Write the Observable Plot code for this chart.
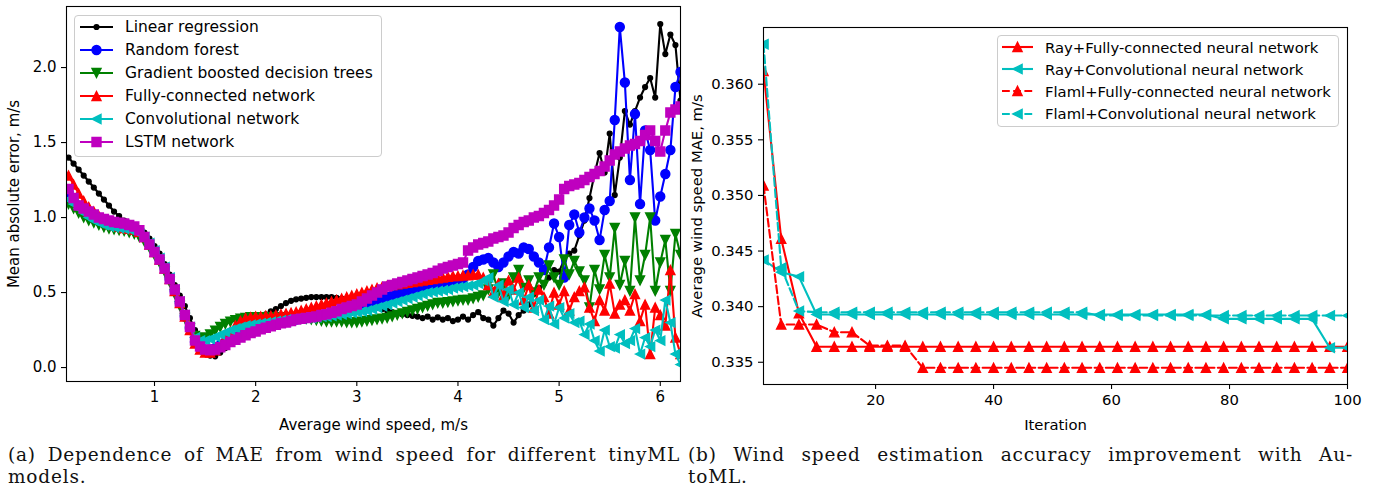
<!DOCTYPE html>
<html>
<head>
<meta charset="utf-8">
<script src="https://cdn.jsdelivr.net/npm/d3@7"></script>
<script src="https://cdn.jsdelivr.net/npm/@observablehq/plot@0.6"></script>
<style>
html,body{margin:0;padding:0;background:#fff;}
#page{position:relative;width:1375px;height:495px;overflow:hidden;background:#fff;font-family:"DejaVu Sans",sans-serif;}
.chart{position:absolute;top:0;}
.legend{position:absolute;box-sizing:border-box;border:1px solid #cccccc;border-radius:4px;background:rgba(255,255,255,0.8);font-family:"DejaVu Sans",sans-serif;color:#000;}
.legend .row{position:absolute;left:0;height:22px;display:flex;align-items:center;white-space:nowrap;}
.legend svg{display:block;overflow:visible;flex:none;}
.cap{position:absolute;font-family:"DejaVu Serif",serif;font-size:18.5px;line-height:22px;letter-spacing:0.8px;color:#111;}
.cap .l1{text-align:justify;text-align-last:justify;}
</style>
</head>
<body>
<div id="page">
  <div id="left" class="chart" style="left:0px"></div>
  <div id="right" class="chart" style="left:680px"></div>
  <div id="legL" class="legend" style="left:74px;top:15px;width:308px;height:142px;font-size:15.5px"></div>
  <div id="legR" class="legend" style="left:997px;top:35px;width:342px;height:92px;font-size:14.8px"></div>
  <div class="cap" style="left:8px;top:444px;width:672px">
    <div class="l1">(a) Dependence of MAE from wind speed for different tinyML</div>
    <div>models.</div>
  </div>
  <div class="cap" style="left:688px;top:444px;width:665px">
    <div class="l1">(b) Wind speed estimation accuracy improvement with Au-</div>
    <div>toML.</div>
  </div>
</div>
<script>
// ---------- Panel (a): MAE vs average wind speed ----------
const windSpeed = [
  0.15,0.20,0.25,0.30,0.35,0.40,0.45,0.50,0.55,0.60,
  0.65,0.70,0.75,0.80,0.85,0.90,0.95,1.00,1.05,1.10,
  1.15,1.20,1.25,1.30,1.35,1.40,1.45,1.50,1.55,1.60,
  1.65,1.70,1.75,1.80,1.85,1.90,1.95,2.00,2.05,2.10,
  2.15,2.20,2.25,2.30,2.35,2.40,2.45,2.50,2.55,2.60,
  2.65,2.70,2.75,2.80,2.85,2.90,2.95,3.00,3.05,3.10,
  3.15,3.20,3.25,3.30,3.35,3.40,3.45,3.50,3.55,3.60,
  3.65,3.70,3.75,3.80,3.85,3.90,3.95,4.00,4.05,4.10,
  4.15,4.20,4.25,4.30,4.35,4.40,4.45,4.50,4.55,4.60,
  4.65,4.70,4.75,4.80,4.85,4.90,4.95,5.00,5.05,5.10,
  5.15,5.20,5.25,5.30,5.35,5.40,5.45,5.50,5.55,5.60,
  5.65,5.70,5.75,5.80,5.85,5.90,5.95,6.00,6.05,6.10,
  6.15,6.20];

const linearRegression = [
  1.40,1.36,1.32,1.28,1.24,1.20,1.16,1.12,1.08,1.04,
  1.01,0.98,0.965,0.95,0.93,0.90,0.86,0.81,0.76,0.69,
  0.62,0.55,0.48,0.41,0.33,0.25,0.19,0.13,0.08,0.075,
  0.10,0.13,0.165,0.195,0.225,0.26,0.29,0.315,0.335,0.355,
  0.375,0.39,0.41,0.43,0.445,0.455,0.46,0.465,0.47,0.47,
  0.47,0.47,0.47,0.465,0.46,0.455,0.45,0.44,0.43,0.42,
  0.41,0.40,0.39,0.38,0.37,0.36,0.355,0.35,0.345,0.34,
  0.33,0.34,0.32,0.335,0.32,0.33,0.31,0.32,0.34,0.32,
  0.35,0.37,0.33,0.32,0.28,0.33,0.38,0.36,0.30,0.35,
  0.38,0.42,0.49,0.53,0.56,0.60,0.65,0.64,0.72,0.76,
  0.78,0.88,0.98,1.13,1.29,1.43,1.30,1.56,1.15,1.40,
  1.71,1.62,1.71,1.80,1.87,1.93,1.80,2.29,2.09,2.22,
  2.15,1.78];

const randomForest = [
  1.17,1.12,1.08,1.05,1.03,1.01,0.99,0.98,0.97,0.965,
  0.96,0.955,0.945,0.935,0.91,0.87,0.82,0.77,0.72,0.66,
  0.59,0.51,0.43,0.34,0.26,0.17,0.13,0.12,0.12,0.13,
  0.15,0.17,0.19,0.205,0.22,0.23,0.24,0.25,0.26,0.27,
  0.28,0.29,0.30,0.305,0.31,0.32,0.325,0.33,0.335,0.34,
  0.345,0.35,0.36,0.37,0.38,0.39,0.40,0.41,0.42,0.43,
  0.44,0.45,0.46,0.47,0.48,0.49,0.50,0.51,0.52,0.53,
  0.54,0.545,0.55,0.555,0.56,0.57,0.575,0.58,0.59,0.62,
  0.67,0.71,0.72,0.73,0.70,0.67,0.70,0.74,0.77,0.76,
  0.80,0.79,0.74,0.70,0.65,0.80,0.96,0.87,0.60,0.95,
  1.02,0.90,1.00,1.06,0.98,0.85,1.05,1.11,1.65,2.27,
  1.90,1.25,1.69,1.09,1.58,1.45,0.98,1.14,1.29,1.45,
  1.87,1.97];

const gradientBoosted = [
  1.09,1.06,1.03,1.00,0.98,0.965,0.95,0.935,0.925,0.92,
  0.915,0.91,0.90,0.89,0.87,0.84,0.80,0.75,0.70,0.64,
  0.57,0.49,0.41,0.33,0.26,0.21,0.195,0.20,0.22,0.245,
  0.27,0.29,0.305,0.315,0.325,0.33,0.335,0.335,0.335,0.335,
  0.335,0.335,0.335,0.335,0.335,0.33,0.33,0.325,0.32,0.315,
  0.31,0.305,0.305,0.305,0.305,0.30,0.30,0.30,0.305,0.31,
  0.315,0.32,0.325,0.33,0.34,0.35,0.36,0.37,0.38,0.39,
  0.40,0.41,0.42,0.43,0.43,0.435,0.44,0.445,0.45,0.45,
  0.46,0.47,0.48,0.52,0.62,0.50,0.56,0.48,0.60,0.65,
  0.53,0.58,0.50,0.60,0.55,0.68,0.60,0.55,0.72,0.62,
  0.71,0.64,0.58,0.40,0.65,0.52,0.75,0.60,0.93,0.55,
  0.71,0.51,1.00,0.58,0.75,1.00,0.51,0.70,0.85,0.51,
  0.89,0.75];

const fullyConnected = [
  1.28,1.22,1.16,1.11,1.07,1.04,1.01,0.98,0.96,0.95,
  0.94,0.93,0.925,0.92,0.905,0.87,0.82,0.77,0.72,0.66,
  0.59,0.51,0.43,0.34,0.25,0.16,0.12,0.10,0.10,0.115,
  0.15,0.20,0.24,0.28,0.31,0.33,0.335,0.34,0.34,0.345,
  0.345,0.35,0.355,0.36,0.365,0.37,0.38,0.39,0.40,0.41,
  0.42,0.43,0.44,0.45,0.46,0.47,0.48,0.49,0.50,0.51,
  0.52,0.53,0.537,0.545,0.55,0.555,0.56,0.565,0.57,0.575,
  0.58,0.585,0.59,0.595,0.60,0.605,0.61,0.61,0.615,0.615,
  0.62,0.62,0.60,0.55,0.50,0.56,0.48,0.58,0.52,0.60,
  0.45,0.55,0.40,0.52,0.47,0.36,0.50,0.42,0.51,0.38,
  0.47,0.51,0.535,0.40,0.31,0.45,0.38,0.56,0.36,0.42,
  0.45,0.38,0.49,0.31,0.42,0.09,0.40,0.35,0.28,0.65,
  0.20,0.09];

const convolutional = [
  1.12,1.09,1.06,1.03,1.00,0.98,0.965,0.95,0.94,0.935,
  0.93,0.925,0.92,0.91,0.895,0.87,0.83,0.78,0.73,0.67,
  0.60,0.52,0.44,0.35,0.27,0.20,0.18,0.18,0.19,0.205,
  0.22,0.235,0.25,0.26,0.27,0.28,0.285,0.29,0.295,0.30,
  0.305,0.31,0.315,0.32,0.32,0.325,0.325,0.33,0.33,0.335,
  0.34,0.34,0.345,0.35,0.355,0.36,0.365,0.37,0.375,0.38,
  0.39,0.40,0.41,0.42,0.43,0.44,0.45,0.46,0.47,0.48,
  0.49,0.50,0.505,0.51,0.515,0.52,0.53,0.535,0.54,0.545,
  0.55,0.56,0.58,0.60,0.47,0.55,0.44,0.52,0.42,0.50,
  0.40,0.47,0.38,0.45,0.32,0.41,0.29,0.40,0.33,0.36,
  0.30,0.31,0.22,0.29,0.18,0.11,0.25,0.14,0.13,0.22,
  0.16,0.18,0.26,0.09,0.20,0.14,0.25,0.18,0.45,0.30,
  0.09,0.02];

const lstm = [
  1.19,1.13,1.08,1.06,1.04,1.02,1.00,0.99,0.98,0.97,
  0.965,0.96,0.95,0.94,0.915,0.87,0.82,0.77,0.72,0.66,
  0.59,0.52,0.44,0.35,0.27,0.18,0.14,0.12,0.115,0.12,
  0.135,0.15,0.17,0.185,0.20,0.215,0.23,0.24,0.255,0.265,
  0.275,0.285,0.295,0.30,0.31,0.32,0.325,0.33,0.335,0.34,
  0.35,0.355,0.365,0.375,0.39,0.40,0.41,0.42,0.44,0.46,
  0.48,0.50,0.52,0.54,0.55,0.56,0.57,0.58,0.59,0.60,
  0.61,0.62,0.63,0.645,0.66,0.67,0.68,0.69,0.70,0.78,
  0.80,0.82,0.83,0.84,0.86,0.87,0.88,0.90,0.93,0.95,
  0.97,0.98,1.00,1.01,1.03,1.05,1.08,1.12,1.19,1.21,
  1.22,1.23,1.25,1.27,1.29,1.31,1.34,1.38,1.42,1.44,
  1.46,1.48,1.49,1.51,1.55,1.58,1.51,1.44,1.58,1.70,
  1.72,1.74];

const leftXTicks = [1, 2, 3, 4, 5, 6];
const leftYTicks = [0.0, 0.5, 1.0, 1.5, 2.0];

// ---------- Panel (b): AutoML iterations ----------
const iterations = [
  1,4,7,10,13,16,19,22,25,28,
  31,34,37,40,43,46,49,52,55,58,
  61,64,67,70,73,76,79,82,85,88,
  91,94,97,100];

const rayFullyConnected = [
  0.3612,0.3461,0.3394,0.3364,0.3364,0.3364,0.3364,0.3364,0.3364,0.3364,
  0.3364,0.3364,0.3364,0.3364,0.3364,0.3364,0.3364,0.3364,0.3364,0.3364,
  0.3364,0.3364,0.3364,0.3364,0.3364,0.3364,0.3364,0.3364,0.3364,0.3364,
  0.3364,0.3364,0.3364,0.3364];

const rayConvolutional = [
  0.3442,0.3431,0.3427,0.3393,0.3393,0.3393,0.3393,0.3393,0.3393,0.3393,
  0.3393,0.3393,0.3393,0.3393,0.3393,0.3393,0.3393,0.3393,0.3393,0.3393,
  0.3393,0.3393,0.3393,0.3393,0.3393,0.3393,0.3389,0.3389,0.3389,0.3389,
  0.3389,0.3389,0.3363,0.3363];

const flamlFullyConnected = [
  0.3509,0.3384,0.3384,0.3384,0.3377,0.3377,0.3365,0.3365,0.3365,0.3345,
  0.3345,0.3345,0.3345,0.3345,0.3345,0.3345,0.3345,0.3345,0.3345,0.3345,
  0.3345,0.3345,0.3345,0.3345,0.3345,0.3345,0.3345,0.3345,0.3345,0.3345,
  0.3345,0.3345,0.3345,0.3345];

const flamlConvolutional = [
  0.3636,0.3435,0.3396,0.3395,0.3395,0.3395,0.3395,0.3395,0.3395,0.3395,
  0.3395,0.3395,0.3395,0.3395,0.3395,0.3395,0.3395,0.3395,0.3395,0.3392,
  0.3392,0.3392,0.3392,0.3392,0.3392,0.3392,0.3392,0.3392,0.3392,0.3392,
  0.3392,0.3392,0.3392,0.3392];

const rightXTicks = [20, 40, 60, 80, 100];
const rightYTicks = [0.335, 0.340, 0.345, 0.350, 0.355, 0.360];

// ---------- marker shapes (matplotlib-like) ----------
function makeSym(fn){ return {draw(ctx, size){ const r = Math.sqrt(size / Math.PI); fn(ctx, r); }}; }
const symCircle = makeSym((c,r)=>{ c.moveTo(r,0); c.arc(0,0,r,0,2*Math.PI); c.closePath(); });
const symTriUp = makeSym((c,r)=>{ c.moveTo(0,-r); c.lineTo(-r,r); c.lineTo(r,r); c.closePath(); });
const symTriDown = makeSym((c,r)=>{ c.moveTo(0,r); c.lineTo(-r,-r); c.lineTo(r,-r); c.closePath(); });
const symTriLeft = makeSym((c,r)=>{ c.moveTo(-r,0); c.lineTo(r,-r); c.lineTo(r,r); c.closePath(); });
const symSquare = makeSym((c,r)=>{ c.rect(-r,-r,2*r,2*r); });

const K = "#000000", B = "#0000ff", G = "#008000", R = "#ff0000", C = "#00bfbf", M = "#bf00bf";
const DASH = "7.8,3.4";

const leftSeries = [
  {name: "Linear regression", values: linearRegression, color: K, symbol: symCircle, r: 2.4},
  {name: "Random forest", values: randomForest, color: B, symbol: symCircle, r: 4.5},
  {name: "Gradient boosted decision trees", values: gradientBoosted, color: G, symbol: symTriDown, r: 4.5},
  {name: "Fully-connected network", values: fullyConnected, color: R, symbol: symTriUp, r: 4.5},
  {name: "Convolutional network", values: convolutional, color: C, symbol: symTriLeft, r: 4.5},
  {name: "LSTM network", values: lstm, color: M, symbol: symSquare, r: 4.5}
];

const rightSeries = [
  {name: "Ray+Fully-connected neural network", values: rayFullyConnected, color: R, symbol: symTriUp, r: 4.6, dash: null},
  {name: "Ray+Convolutional neural network", values: rayConvolutional, color: C, symbol: symTriLeft, r: 4.6, dash: null},
  {name: "Flaml+Fully-connected neural network", values: flamlFullyConnected, color: R, symbol: symTriUp, r: 4.6, dash: DASH},
  {name: "Flaml+Convolutional neural network", values: flamlConvolutional, color: C, symbol: symTriLeft, r: 4.6, dash: DASH}
];

function seriesMarks(xs, series){
  const marks = [];
  for (const s of series) {
    const rows = xs.map((x, i) => ({x, y: s.values[i]}));
    const lineOpts = {x: "x", y: "y", stroke: s.color, strokeWidth: 2.1, clip: true};
    if (s.dash) lineOpts.strokeDasharray = s.dash;
    marks.push(Plot.line(rows, lineOpts));
    marks.push(Plot.dot(rows, {x: "x", y: "y", symbol: s.symbol, r: s.r, fill: s.color, stroke: s.color, strokeWidth: 1.4, clip: true}));
  }
  return marks;
}

const baseStyle = {fontFamily: "DejaVu Sans", fontSize: "15px", color: "#000", background: "transparent", overflow: "visible"};
const axisCommon = {tickSize: 5, tickPadding: 5, strokeWidth: 1.1, labelAnchor: "center", labelArrow: "none"};

const leftPlot = Plot.plot({
  width: 690, height: 420,
  marginLeft: 66, marginRight: 10, marginTop: 6, marginBottom: 39,
  x: {domain: [0.13, 6.2]},
  y: {domain: [-0.093, 2.407]},
  style: baseStyle,
  marks: [
    ...seriesMarks(windSpeed, leftSeries),
    Plot.axisX({...axisCommon, fontSize: 15, ticks: leftXTicks, tickFormat: d => String(d),
      label: "Average wind speed, m/s", labelOffset: 48}),
    Plot.axisY({...axisCommon, fontSize: 15, ticks: leftYTicks, tickFormat: d3.format(".1f"),
      label: "Mean absolute error, m/s", labelOffset: 58}),
    Plot.frame({stroke: "#000", strokeWidth: 1.1})
  ]
});
document.getElementById("left").appendChild(leftPlot);

const rightPlot = Plot.plot({
  width: 695, height: 420,
  marginLeft: 83, marginRight: 28, marginTop: 27, marginBottom: 36,
  x: {domain: [1, 100]},
  y: {domain: [0.3330, 0.3651]},
  style: {...baseStyle, fontSize: "14.8px"},
  marks: [
    ...seriesMarks(iterations, rightSeries),
    Plot.axisX({...axisCommon, fontSize: 14.8, ticks: rightXTicks, tickFormat: d => String(d),
      label: "Iteration", labelOffset: 45}),
    Plot.axisY({...axisCommon, fontSize: 14.8, ticks: rightYTicks, tickFormat: d3.format(".3f"),
      label: "Average wind speed MAE, m/s", labelOffset: 72}),
    Plot.frame({stroke: "#000", strokeWidth: 1.1})
  ]
});
document.getElementById("right").appendChild(rightPlot);

// ---------- legends ----------
function buildLegend(el, series, opt){
  series.forEach((s, i) => {
    const row = document.createElement("div");
    row.className = "row";
    row.style.top = (opt.firstTop + i * opt.pitch) + "px";
    const ns = "http://www.w3.org/2000/svg";
    const svg = document.createElementNS(ns, "svg");
    svg.setAttribute("width", opt.textLeft);
    svg.setAttribute("height", 22);
    const ln = document.createElementNS(ns, "line");
    ln.setAttribute("x1", opt.lineX1); ln.setAttribute("x2", opt.lineX2);
    ln.setAttribute("y1", 11); ln.setAttribute("y2", 11);
    ln.setAttribute("stroke", s.color); ln.setAttribute("stroke-width", 2.1);
    if (s.dash) ln.setAttribute("stroke-dasharray", s.dash);
    svg.appendChild(ln);
    const p = document.createElementNS(ns, "path");
    p.setAttribute("d", d3.symbol(s.symbol, s.r * s.r * Math.PI)());
    p.setAttribute("transform", `translate(${(opt.lineX1 + opt.lineX2) / 2},11)`);
    p.setAttribute("fill", s.color); p.setAttribute("stroke", s.color); p.setAttribute("stroke-width", 1.4);
    svg.appendChild(p);
    row.appendChild(svg);
    const t = document.createElement("span");
    t.textContent = s.name;
    row.appendChild(t);
    el.appendChild(row);
  });
}
buildLegend(document.getElementById("legL"), leftSeries, {firstTop: 0, pitch: 23, lineX1: 5, lineX2: 38, textLeft: 50});
buildLegend(document.getElementById("legR"), rightSeries, {firstTop: 0, pitch: 22.2, lineX1: 4, lineX2: 35, textLeft: 47});
</script>
</body>
</html>
